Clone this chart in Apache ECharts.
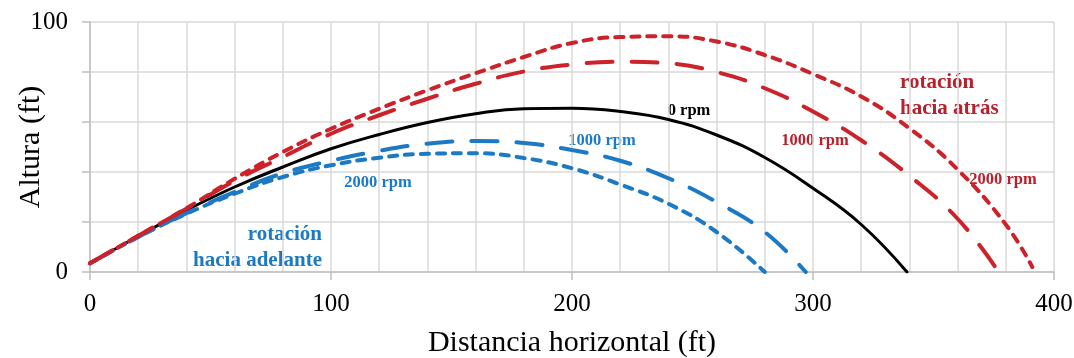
<!DOCTYPE html>
<html>
<head>
<meta charset="utf-8">
<title>Trayectoria</title>
<script src="https://cdn.jsdelivr.net/npm/echarts@6/dist/echarts.min.js"></script>
<style>
  html, body { margin: 0; padding: 0; background: #fff; }
  #chart { width: 1074px; height: 358px; }
</style>
</head>
<body>
<div id="chart"></div>
<script>
// distancia horizontal (ft) / altura (ft)
const dist0rpm = [0, 20, 40, 60, 80, 100, 120, 140, 160, 180, 200, 220, 240, 260, 280, 300, 320, 339];
const alt0rpm = [3.5, 14.3, 24.7, 34, 42, 49.3, 55, 59.8, 63.3, 65.3, 65.5, 64.2, 61, 54.8, 45.8, 33.5, 19, 0];

const distAtras1000 = [0, 20, 40, 60, 80, 100, 120, 140, 160, 180, 200, 220, 240, 260, 280, 300, 320, 340, 360, 376];
const altAtras1000 = [3.5, 14.5, 25.3, 36.5, 46, 55.3, 62.7, 69.3, 75.3, 80.2, 83, 84.1, 83.5, 80, 73.5, 64.2, 52.7, 38.5, 21.3, 1.5];

const distAtras2000 = [0, 20, 40, 60, 80, 100, 120, 140, 160, 180, 200, 220, 240, 260, 280, 300, 320, 340, 360, 380, 391];
const altAtras2000 = [3.5, 14.5, 25.5, 37.3, 48, 57.3, 65.3, 72.7, 79.5, 86, 91.6, 94, 94.3, 92.2, 86.8, 79.2, 70.2, 57.5, 41, 19, 2];

const distAdelante1000 = [0, 20, 40, 60, 80, 100, 120, 140, 160, 180, 200, 220, 240, 260, 280, 297];
const altAdelante1000 = [3.5, 14, 23.5, 32, 39.5, 44.5, 48.5, 51.3, 52.4, 51.6, 48.8, 44.5, 37.5, 28, 16, 0];

const distAdelante2000 = [0, 20, 40, 60, 80, 100, 120, 140, 160, 180, 200, 220, 240, 260, 280];
const altAdelante2000 = [3.5, 14, 23.3, 31.3, 38, 42.7, 45.7, 47.3, 47.5, 45.6, 41.5, 35, 27.3, 16, 0];

const xTicks = [0, 100, 200, 300, 400];
const yTicks = [0, 100];

const RED = '#cc2229';
const RED_TEXT = '#b8212b';
const BLUE = '#1c7ac4';
const SERIF = '"Liberation Serif", "Times New Roman", serif';

function pairs(xs, ys) {
  return xs.map((x, i) => [x, ys[i]]);
}

function curve(name, xs, ys, color, dash, width) {
  return {
    name: name,
    type: 'line',
    data: pairs(xs, ys),
    smooth: 0.45,
    showSymbol: false,
    symbol: 'none',
    lineStyle: { color: color, width: width, type: dash, cap: 'round' }
  };
}

const chart = echarts.init(document.getElementById('chart'));

// etiquetas de texto sobre la grafica (x, y = punto de anclaje en pixeles)
function label(text, x, y, color, size, align) {
  return {
    type: 'text',
    x: x,
    y: y,
    style: {
      text: text,
      fill: color,
      font: 'bold ' + size + 'px ' + SERIF,
      align: align || 'center',
      verticalAlign: 'middle',
      lineHeight: 26
    }
  };
}

const option = {
  animation: false,
  grid: { left: 90, right: 20, top: 22, bottom: 86, outerBoundsMode: 'none', containLabel: false },
  xAxis: {
    type: 'value',
    min: 0,
    max: 400,
    interval: 100,
    name: 'Distancia horizontal (ft)',
    nameLocation: 'middle',
    nameGap: 56,
    nameMoveOverlap: false,
    nameTextStyle: { fontFamily: SERIF, fontSize: 30, color: '#000' },
    axisLine: { show: true, lineStyle: { color: '#bfbfbf', width: 1.5 } },
    axisTick: { show: true, length: 8, lineStyle: { color: '#bfbfbf', width: 1.5 } },
    axisLabel: {
      margin: 20,
      fontFamily: SERIF,
      fontSize: 25,
      color: '#000',
      formatter: v => (xTicks.indexOf(v) >= 0 ? String(v) : '')
    },
    splitLine: { show: true, lineStyle: { color: '#d9d9d9', width: 1.5 } },
    minorTick: { show: false, splitNumber: 5 },
    minorSplitLine: { show: true, lineStyle: { color: '#d9d9d9', width: 1.5 } }
  },
  yAxis: {
    type: 'value',
    min: 0,
    max: 100,
    interval: 20,
    name: 'Altura (ft)',
    nameLocation: 'middle',
    nameRotate: 90,
    nameGap: 44,
    nameMoveOverlap: false,
    nameTextStyle: { fontFamily: SERIF, fontSize: 30, color: '#000' },
    axisLine: { show: true, lineStyle: { color: '#bfbfbf', width: 1.5 } },
    axisTick: { show: true, length: 8, lineStyle: { color: '#bfbfbf', width: 1.5 } },
    axisLabel: {
      margin: 22,
      fontFamily: SERIF,
      fontSize: 25,
      color: '#000',
      formatter: v => (yTicks.indexOf(v) >= 0 ? String(v) : '')
    },
    splitLine: { show: true, lineStyle: { color: '#d9d9d9', width: 1.5 } }
  },
  series: [
    curve('0 rpm', dist0rpm, alt0rpm, '#000', 'solid', 3),
    curve('1000 rpm adelante', distAdelante1000, altAdelante1000, BLUE, [26, 19], 4),
    curve('2000 rpm adelante', distAdelante2000, altAdelante2000, BLUE, [8, 8], 4),
    curve('1000 rpm atras', distAtras1000, altAtras1000, RED, [26, 19], 4),
    curve('2000 rpm atras', distAtras2000, altAtras2000, RED, [8, 8], 4)
  ],
  graphic: [
    label('0 rpm', 689, 111, '#000', 16.5),
    label('1000 rpm', 602, 141, BLUE, 16.5),
    label('2000 rpm', 378, 183, BLUE, 16.5),
    label('1000 rpm', 815, 141, RED_TEXT, 16.5),
    label('2000 rpm', 1003, 180, RED_TEXT, 16.5),
    label('rotación\nhacia atrás', 900, 96, RED_TEXT, 21, 'left'),
    label('rotación\nhacia adelante', 322, 248, BLUE, 21, 'right')
  ]
};

chart.setOption(option);
</script>
</body>
</html>
